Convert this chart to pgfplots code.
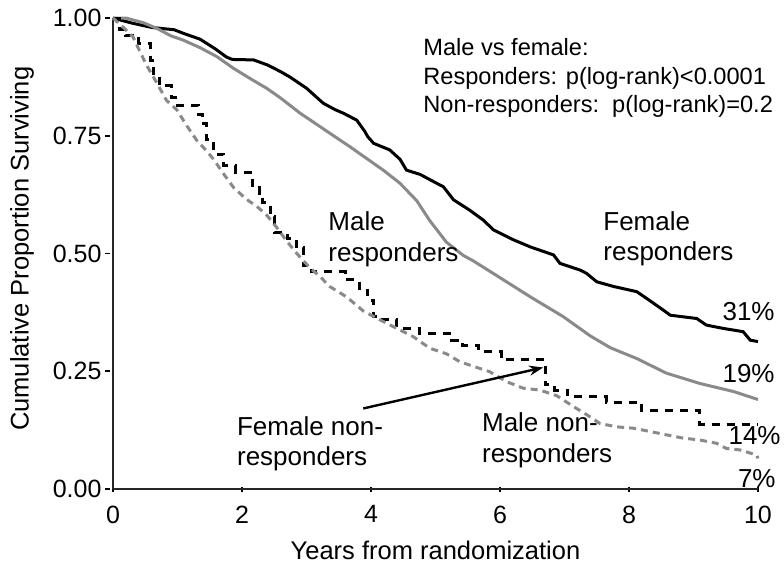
\documentclass[border=0pt]{standalone}
\usepackage{fontspec}
\setmainfont{Liberation Sans}
\usepackage{pgfplots}
\pgfplotsset{compat=1.18}
\usetikzlibrary{arrows.meta}
\definecolor{kmgray}{RGB}{138,138,138}
\begin{document}
\begin{tikzpicture}[x=1pt,y=1pt]
\path[use as bounding box] (-56.5,-40.5) rectangle (335.5,244.5);
\begin{axis}[
  at={(0,0)}, anchor=south west,
  width=322.5pt, height=235.5pt, scale only axis,
  xmin=0, xmax=10, ymin=0, ymax=1,
  axis x line=bottom, axis y line=left,
  axis line style={-, line width=1pt, black!85},
  clip=false,
  xtick={0,2,4,6,8,10},
  ytick={0,0.25,0.5,0.75,1},
  yticklabel style={/pgf/number format/fixed, /pgf/number format/fixed zerofill, /pgf/number format/precision=2, xshift=-1pt},
  /pgf/number format/assume math mode=true,
  tick label style={font=\fontsize{12.5}{15}\selectfont},
  xticklabel style={yshift=-3.5pt},
  major tick length=2.5pt,
  tick style={black, line width=0.8pt},
  ytick style={xshift=-2.5pt},
  xlabel={Years from randomization},
  ylabel={Cumulative Proportion Surviving},
  label style={font=\fontsize{12.75}{15}\selectfont},
  x label style={at={(axis description cs:0.5,-0.13)}, anchor=center},
  y label style={at={(axis description cs:-0.141,0.51)}, anchor=center, rotate=0},
]
% Female responders (black solid)
\addplot[black, line width=1.5pt] coordinates {
(0,1.0) (0.3,0.989) (0.6,0.980) (0.95,0.975) (1.1,0.967) (1.35,0.955)
(1.58,0.935) (1.76,0.917) (1.85,0.912) (2.18,0.911) (2.4,0.900) (2.6,0.886)
(2.74,0.875) (3.0,0.851) (3.26,0.819) (3.45,0.805) (3.57,0.798) (3.78,0.783)
(3.9,0.760) (3.95,0.748) (4.04,0.734) (4.29,0.720) (4.45,0.700) (4.55,0.677)
(4.76,0.668) (5.02,0.649) (5.12,0.642) (5.28,0.614) (5.53,0.592) (5.74,0.571)
(5.90,0.550) (6.21,0.529) (6.47,0.514) (6.83,0.497) (6.93,0.479) (7.24,0.465)
(7.34,0.458) (7.50,0.440) (7.76,0.430) (8.12,0.419) (8.27,0.405) (8.53,0.380)
(8.64,0.369) (9.05,0.362) (9.20,0.348) (9.46,0.341) (9.77,0.334) (9.88,0.316)
(10.0,0.313)
};
% Male responders (gray solid)
\addplot[kmgray, line width=1.5pt] coordinates {
(0,1.0) (0.2,1.0) (0.47,0.990) (0.68,0.978) (0.9,0.962) (1.09,0.953)
(1.35,0.937) (1.61,0.918) (1.87,0.893) (2.12,0.872) (2.38,0.851) (2.59,0.831)
(2.74,0.815) (2.90,0.798) (3.16,0.774) (3.42,0.750) (3.67,0.727) (3.93,0.702)
(4.19,0.677) (4.45,0.649) (4.71,0.612) (4.91,0.570) (5.17,0.524) (5.43,0.496)
(5.59,0.484) (5.95,0.453) (6.47,0.408) (6.98,0.366) (7.40,0.325) (7.71,0.300)
(8.12,0.277) (8.58,0.246) (9.10,0.224) (9.62,0.207) (10.0,0.190)
};
% Female non-responders (black dashed, step)
\addplot[black, line width=1.5pt, dash pattern=on 4pt off 3.5pt, const plot] coordinates {
(0,1.0) (0.10,0.976) (0.20,0.963) (0.40,0.946) (0.58,0.910) (0.63,0.882)
(0.72,0.856) (0.90,0.832) (1.00,0.815) (1.32,0.795) (1.38,0.775) (1.45,0.742)
(1.56,0.711) (1.72,0.686) (1.90,0.672) (2.16,0.640) (2.27,0.625) (2.32,0.608)
(2.44,0.578) (2.50,0.545) (2.70,0.532) (2.84,0.512) (2.96,0.474) (3.08,0.461)
(3.60,0.444) (3.82,0.422) (3.95,0.401) (4.04,0.366) (4.14,0.359) (4.40,0.341)
(4.75,0.331) (5.25,0.316) (5.42,0.304) (5.67,0.291) (6.02,0.274) (6.70,0.221)
(6.85,0.210) (7.05,0.196) (7.65,0.184) (8.20,0.166) (9.10,0.137) (10.0,0.137)
};
% Male non-responders (gray dashed)
\addplot[kmgray, line width=1.5pt, dash pattern=on 3.5pt off 2.5pt] coordinates {
(0,1.0) (0.16,0.980) (0.31,0.960) (0.42,0.928) (0.52,0.900) (0.68,0.862)
(0.83,0.825) (0.99,0.805) (1.14,0.772) (1.30,0.740) (1.45,0.718) (1.56,0.700)
(1.71,0.670) (1.87,0.640) (2.07,0.615) (2.23,0.600) (2.38,0.582) (2.54,0.555)
(2.69,0.527) (2.85,0.500) (3.05,0.470) (3.21,0.451) (3.36,0.430) (3.62,0.408)
(3.88,0.378) (4.14,0.359) (4.40,0.341) (4.66,0.323) (4.91,0.299) (5.17,0.287)
(5.38,0.270) (5.84,0.249) (6.10,0.228) (6.36,0.214) (6.62,0.210) (6.88,0.198)
(7.14,0.175) (7.40,0.153) (7.55,0.139) (7.81,0.132) (8.07,0.129) (8.33,0.122)
(8.58,0.115) (8.84,0.108) (9.10,0.104) (9.36,0.097) (9.51,0.086) (9.72,0.083)
(9.98,0.072) (10.0,0.065)
};
\draw[black, line width=1.2pt, -{Stealth[length=7pt,width=5pt]}] (axis cs:3.88,0.171) -- (axis cs:6.67,0.258);
\end{axis}
% annotations (picture coordinates in pt, origin at the plot's lower-left corner)
\begin{scope}[every node/.style={inner sep=0pt}]
\node[anchor=base west, font=\fontsize{11.8}{14}\selectfont] at (155,216.75) {Male vs female:};
\node[anchor=base west, font=\fontsize{11.8}{14}\selectfont] at (155,202.5) {Responders: p(log-rank)<0.0001};
\node[anchor=base west, font=\fontsize{11.8}{14}\selectfont] at (155,188.25) {Non-responders:\ \ p(log-rank)=0.2};
\node[anchor=base west, font=\fontsize{13}{15}\selectfont] at (107.5,129.5) {Male};
\node[anchor=base west, font=\fontsize{13}{15}\selectfont] at (107.5,114) {responders};
\node[anchor=base west, font=\fontsize{13}{15}\selectfont] at (245,129.5) {Female};
\node[anchor=base west, font=\fontsize{13}{15}\selectfont] at (245,114.5) {responders};
\node[anchor=base west, font=\fontsize{13}{15}\selectfont] at (61.85,27) {Female non-};
\node[anchor=base west, font=\fontsize{13}{15}\selectfont] at (61.85,12) {responders};
\node[anchor=base west, font=\fontsize{13}{15}\selectfont] at (184.35,28.75) {Male non-};
\node[anchor=base west, font=\fontsize{13}{15}\selectfont] at (184.35,13.5) {responders};
\node[anchor=base east, font=\fontsize{13}{15}\selectfont] at (331,84.25) {31\%};
\node[anchor=base east, font=\fontsize{13}{15}\selectfont] at (331,53.5) {19\%};
\node[anchor=base east, font=\fontsize{13}{15}\selectfont] at (334,22.5) {14\%};
\node[anchor=base east, font=\fontsize{13}{15}\selectfont] at (331.5,1) {7\%};
\end{scope}
\end{tikzpicture}
\end{document}
